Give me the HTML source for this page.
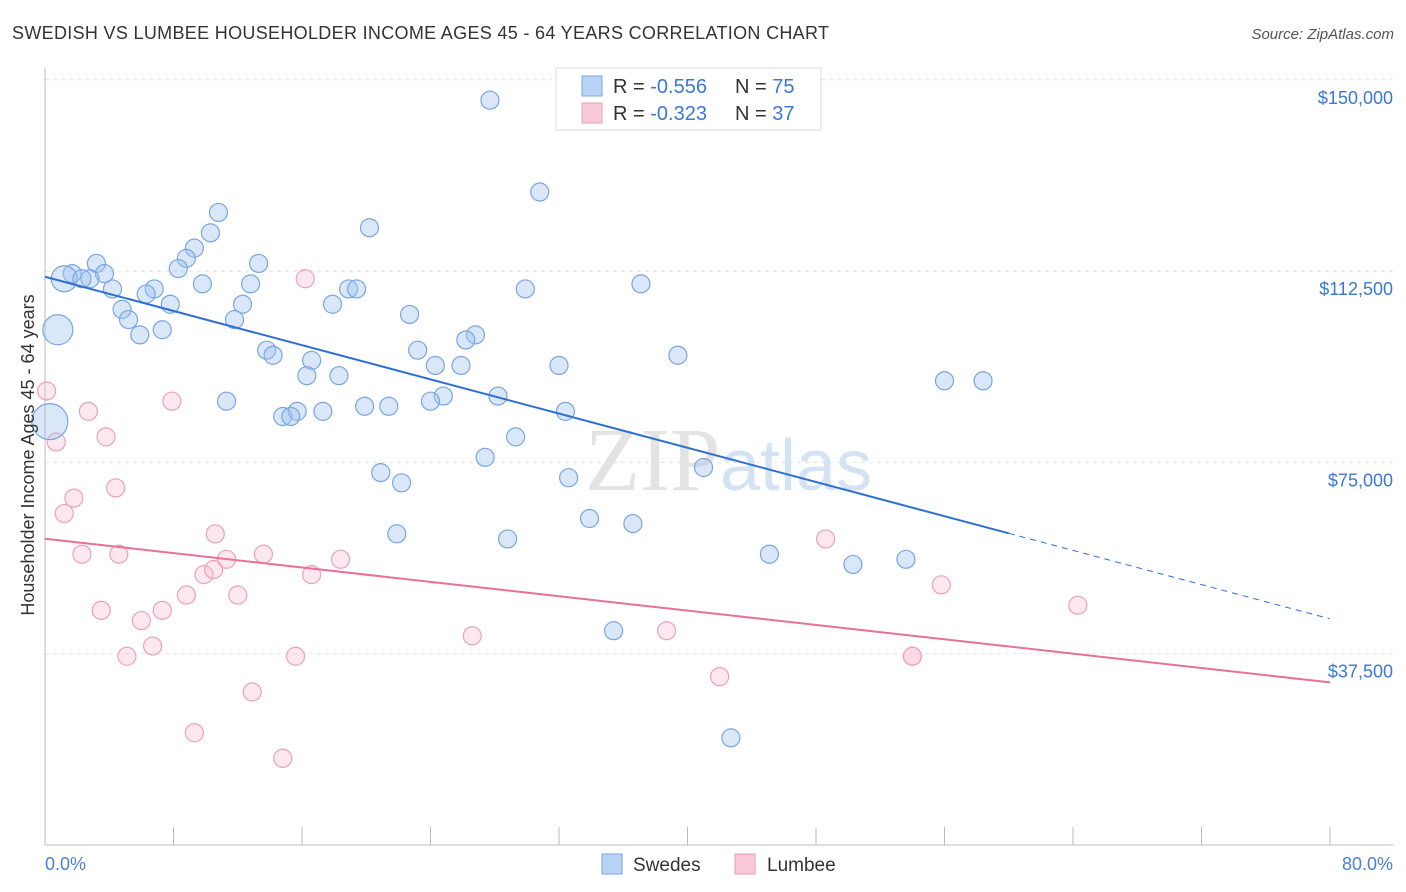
<!DOCTYPE html>
<html><head><meta charset="utf-8"><style>
body{margin:0;background:#fff;font-family:"Liberation Sans",sans-serif;}
svg{display:block}
</style></head><body>
<svg width="1406" height="892">
<text x="12" y="39" font-size="18" fill="#333" textLength="817">SWEDISH VS LUMBEE HOUSEHOLDER INCOME AGES 45 - 64 YEARS CORRELATION CHART</text>
<text x="1394" y="39" font-size="15" fill="#555" font-style="italic" text-anchor="end">Source: ZipAtlas.com</text>
<g id="grid"></g>
<text x="720" y="490" font-size="90" fill="#e3e3e3" font-family="Liberation Serif" text-anchor="end">ZIP</text>
<text x="720" y="490" font-size="72" fill="#d4e3f4">atlas</text>
<g id="marks"></g>
<text transform="translate(34,455) rotate(-90)" font-size="18" fill="#333" text-anchor="middle">Householder Income Ages 45 - 64 years</text>
<text x="45" y="870" font-size="18" fill="#4a7fd4">0.0%</text>
<text x="1393" y="870" font-size="18" fill="#4a7fd4" text-anchor="end">80.0%</text>
<g>
<rect x="556" y="68" width="265" height="62" fill="#fff" stroke="#ddd"/>
<rect x="582" y="76" width="20" height="20" fill="#b8d3f5" stroke="#7aa7e0"/>
<rect x="582" y="103" width="20" height="20" fill="#fbcad8" stroke="#eb9cb6"/>
<text x="613" y="93" font-size="20" fill="#333">R = <tspan fill="#3a78d6">-0.556</tspan></text>
<text x="735" y="93" font-size="20" fill="#333">N = <tspan fill="#3a78d6">75</tspan></text>
<text x="613" y="120" font-size="20" fill="#333">R = <tspan fill="#3a78d6">-0.323</tspan></text>
<text x="735" y="120" font-size="20" fill="#333">N = <tspan fill="#3a78d6">37</tspan></text>
</g>
<g>
<rect x="602" y="854" width="20" height="20" fill="#b8d3f5" stroke="#7aa7e0"/>
<text x="633" y="871" font-size="19" fill="#333">Swedes</text>
<rect x="735" y="854" width="20" height="20" fill="#fbcad8" stroke="#eb9cb6"/>
<text x="767" y="871" font-size="19" fill="#333">Lumbee</text>
</g>
</svg>
<script>
const yTicks=[37500,75000,112500,150000];
const yTickLabels=["$37,500","$75,000","$112,500","$150,000"];
const swedesX=[27.7,30.8,10.8,20.2,10.3,9.3,8.8,13.3,3.2,8.3,1.7,1.2,3.7,2.8,2.3,4.2,6.8,9.8,12.8,18.9,19.4,29.9,37.1,6.3,7.8,12.3,17.9,4.8,5.2,11.8,22.7,0.8,5.9,7.3,26.8,26.2,13.8,14.2,23.2,16.6,39.4,25.9,24.3,32.0,16.3,18.3,56.0,58.4,24.8,28.2,11.3,21.4,24.0,19.9,15.7,17.3,14.8,15.3,32.4,0.3,29.3,27.4,41.0,20.9,22.2,32.6,33.9,36.6,21.9,28.8,45.1,53.6,50.3,35.4,42.7];
const swedesY=[146,128,124,121,120,117,115,114,114,113,112,111,112,111,111,109,109,110,110,109,109,109,110,108,106,106,106,105,103,103,104,101,100,101,100,99,97,96,97,95,96,94,94,94,92,92,91,91,88,88,87,86,87,86,85,85,84,84,85,83,80,76,74,73,71,72,64,63,61,60,57,56,55,42,21];
const swedesR=[9,9,9,9,9,9,9,9,9,9,9,13,9,9,9,9,9,9,9,9,9,9,9,9,9,9,9,9,9,9,9,15,9,9,9,9,9,9,9,9,9,9,9,9,9,9,9,9,9,9,9,9,9,9,9,9,9,9,9,18,9,9,9,9,9,9,9,9,9,9,9,9,9,9,9];
const lumbeeX=[16.2,0.1,7.9,2.7,3.8,0.7,4.4,1.8,1.2,10.6,48.6,2.3,4.6,13.6,11.3,18.4,9.9,10.5,16.6,55.8,8.8,12.0,3.5,7.3,64.3,6.0,38.7,26.6,6.7,5.1,15.6,54.0,54.0,42.0,12.9,9.3,14.8];
const lumbeeY=[111,89,87,85,80,79,70,68,65,61,60,57,57,57,56,56,53,54,53,51,49,49,46,46,47,44,42,41,39,37,37,37,37,33,30,22,17];
const NS="http://www.w3.org/2000/svg";
const X0=45,X1=1330,Y0=845,PX=(X1-X0)/80,PY=191.3/37500;
const sx=v=>X0+v*PX, sy=v=>Y0-v*PY;
function mk(t,a,p){const e=document.createElementNS(NS,t);for(const k in a)e.setAttribute(k,a[k]);p.appendChild(e);return e;}
const grid=document.getElementById('grid'),marks=document.getElementById('marks');
yTicks.forEach((t,i)=>{
 const l=mk('line',{x1:X0,x2:1393,y1:sy(t),y2:sy(t),stroke:'#e2e2e2','stroke-dasharray':'4,4'},grid);
 
 
 const tx=mk('text',{x:1393,y:sy(t)+24,'font-size':18,fill:'#3a78d6','text-anchor':'end'},grid);
 tx.textContent=yTickLabels[i];
 
 
});
const ax=mk('line',{x1:X0,x2:X0,y1:68,y2:Y0,stroke:'#bbb'},grid);


const bx=mk('line',{x1:X0,x2:1393,y1:Y0,y2:Y0,stroke:'#bbb'},grid);


for(let i=0;i<=10;i++){const t=mk('line',{x1:sx(i*8),x2:sx(i*8),y1:Y0,y2:Y0-18,stroke:'#bbb'},grid);
 
 }
function pts(xs,ys,rs,fill,stroke,name){xs.forEach((x,i)=>{
 const c=mk('circle',{cx:sx(x),cy:sy(ys[i]*1000),r:rs?rs[i]:9,fill:fill,stroke:stroke,'stroke-width':1.2},marks);
 
 });}
pts(lumbeeX,lumbeeY,null,'rgba(249,190,208,0.35)','#eda0ba','lumbee-point');
pts(swedesX,swedesY,swedesR,'rgba(160,196,240,0.4)','#78a6e2','swedes-point');
function fit(xs,ys){const n=xs.length;let mx=0,my=0;xs.forEach((x,i)=>{mx+=x;my+=ys[i];});mx/=n;my/=n;let sxy=0,sxx=0;xs.forEach((x,i)=>{sxy+=(x-mx)*(ys[i]-my);sxx+=(x-mx)**2;});const b=sxy/sxx;return[my-b*mx,b];}
const [ab,bb]=fit(swedesX,swedesY),[al,bl]=fit(lumbeeX,lumbeeY);
const t1=mk('line',{x1:sx(0),y1:sy((ab)*1000),x2:sx(60),y2:sy((ab+bb*60)*1000),stroke:'#2d6fd6','stroke-width':2},marks);


const t2=mk('line',{x1:sx(60),y1:sy((ab+bb*60)*1000),x2:sx(80),y2:sy((ab+bb*80)*1000),stroke:'#2d6fd6','stroke-width':1,'stroke-dasharray':'6,5'},marks);


const t3=mk('line',{x1:sx(0),y1:sy(al*1000),x2:sx(80),y2:sy((al+bl*80)*1000),stroke:'#e8709a','stroke-width':2},marks);


</script>
</body></html>
